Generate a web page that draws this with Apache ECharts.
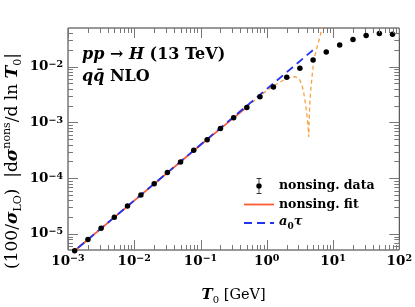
<!DOCTYPE html>
<html><head><meta charset="utf-8">
<script src="https://cdn.jsdelivr.net/npm/echarts@6/dist/echarts.min.js"></script>
<style>html,body{margin:0;padding:0;background:#fff}#c{width:415px;height:307px}</style>
</head><body><div id="c"></div>
<script>
// ---- data ----
const dataX = [1.26e-3, 2.0e-3, 3.16e-3, 5.0e-3, 7.9e-3, 1.26e-2, 2.0e-2, 3.16e-2, 5.0e-2, 7.9e-2,
               0.126, 0.2, 0.316, 0.5, 0.79, 1.26, 2.0, 3.16, 5.0, 7.9, 12.6, 20, 31.6, 50, 79];
const dataY = [5.0e-6, 7.94e-6, 1.26e-5, 2.0e-5, 3.16e-5, 5.01e-5, 7.94e-5, 1.26e-4, 1.95e-4, 3.16e-4,
               4.9e-4, 7.76e-4, 1.216e-3, 1.86e-3, 2.88e-3, 4.32e-3, 6.46e-3, 9.33e-3, 1.318e-2, 1.837e-2,
               2.455e-2, 3.055e-2, 3.606e-2, 3.91e-2, 3.82e-2];
const fitX = [0.001, 0.01, 0.1, 0.25, 0.5];
const fitY = [3.98e-6, 3.97e-5, 3.93e-4, 9.6e-4, 1.88e-3];
const fitExtX = [0.5, 0.76, 1.2, 1.9, 2.3, 2.7, 3.1, 3.4, 3.62, 3.84, 4.06, 4.2, 4.3, 4.33, 4.41, 4.56, 4.82, 5.12, 6.44, 7.0];
const fitExtY = [1.88e-3, 2.89e-3, 4.37e-3, 5.95e-3, 6.5e-3, 6.6e-3, 6.0e-3, 4.7e-3, 3.33e-3, 2.2e-3, 1.26e-3, 8.4e-4, 5.5e-4, 8.4e-4, 1.67e-3, 3.33e-3, 6.6e-3, 1.32e-2, 3.71e-2, 5.6e-2];
const a0X = [0.001, 5.5];
const a0Y = [3.98e-6, 2.19e-2];
const xTickExps = [-3, -2, -1, 0, 1, 2];
const yTickExps = [-5, -4, -3, -2];
const seriesNames = ['nonsing. data', 'nonsing. fit', 'a0tau'];

const X_MIN = 1e-3, X_MAX = 1e2, Y_MIN = 5.16e-6, Y_MAX = 0.0493;
const FONT = 'DejaVu Serif';
const zip = (a, b) => a.map((v, i) => [v, b[i]]);
const MINUS = '\u2212';

function expLabel(exps) {
  return function (v) {
    const e = Math.log10(v);
    const r = Math.round(e);
    if (Math.abs(e - r) > 1e-6 || exps.indexOf(r) < 0) return '';
    return '{b|10}{s|' + (r < 0 ? MINUS + (-r) : r) + '}';
  };
}
const labelRich = {
  b: {fontFamily: FONT, fontWeight: 'bold', fontSize: 13.5, color: '#000', lineHeight: 14, verticalAlign: 'bottom'},
  s: {fontFamily: FONT, fontWeight: 'bold', fontSize: 9.5, color: '#000', lineHeight: 12, verticalAlign: 'top'}
};

const chart = echarts.init(document.getElementById('c'), null, {renderer: 'canvas'});
chart.setOption({
  animation: false,
  backgroundColor: '#fff',
  grid: {left: 68, top: 28, width: 333, height: 222, show: true, borderColor: '#333', borderWidth: 1, backgroundColor: 'transparent'},
  xAxis: {
    type: 'log', min: X_MIN, max: X_MAX, logBase: 10,
    axisLine: {show: false}, axisTick: {show: false}, splitLine: {show: false},
    axisLabel: {margin: 4, formatter: expLabel(xTickExps), rich: labelRich}
  },
  yAxis: {
    type: 'log', min: Y_MIN, max: Y_MAX, logBase: 10,
    axisLine: {show: false}, axisTick: {show: false}, splitLine: {show: false},
    axisLabel: {margin: 5, formatter: expLabel(yTickExps), rich: labelRich}
  },
  legend: {
    orient: 'vertical', left: 239, top: 173,
    itemWidth: 30, itemHeight: 16, itemGap: 4,
    data: [
      {name: seriesNames[0], icon: 'path://M0,0H5V0.7H0Z M2.15,0H2.85V16H2.15Z M0,15.3H5V16H0Z M5.2,8A2.7,2.7 0 1 1 -0.2,8A2.7,2.7 0 1 1 5.2,8Z', itemStyle: {color: '#000', opacity: 1}},
      {name: seriesNames[1], icon: 'path://M0,0H30V1.8H0Z', itemStyle: {color: '#ff5a36'}},
      {name: seriesNames[2], icon: 'path://M0,0H8V1.8H0Z M13,0H21V1.8H13Z M26,0H30V1.8H26Z', itemStyle: {color: '#2233ee'}}
    ],
    formatter: n => n === 'a0tau' ? '{i|a}{sub|0}{i|τ}' : n,
    textStyle: {
      fontFamily: FONT, fontWeight: 'bold', fontSize: 12.5, color: '#000',
      rich: {
        i: {fontFamily: FONT, fontWeight: 'bold', fontStyle: 'italic', fontSize: 13, color: '#000', lineHeight: 16, verticalAlign: 'top'},
        sub: {fontFamily: FONT, fontWeight: 'bold', fontSize: 9, color: '#000', lineHeight: 10, verticalAlign: 'bottom'}
      }
    }
  },
  series: [
    {
      name: seriesNames[1], type: 'line', data: zip(fitX, fitY), symbol: 'none', z: 2,
      lineStyle: {color: '#ff5a36', width: 1.8}, itemStyle: {color: '#ff5a36'}
    },
    {
      name: 'fitExt', type: 'line', data: zip(fitExtX, fitExtY), symbol: 'none', z: 2,
      lineStyle: {color: '#f5a040', width: 1.3, type: [4, 3]}
    },
    {
      name: seriesNames[2], type: 'line', data: zip(a0X, a0Y), symbol: 'none', z: 3,
      lineStyle: {color: '#2233ee', width: 1.8, type: [8, 5]}, itemStyle: {color: '#2233ee'}
    },
    {
      name: seriesNames[0], type: 'scatter', data: zip(dataX, dataY), symbol: 'circle', symbolSize: 5.5,
      clip: false, z: 5, itemStyle: {color: '#000', opacity: 1}
    }
  ]
});

// ---- frame ticks (log minor ticks on all four sides) ----
const px = v => chart.convertToPixel({xAxisIndex: 0}, v);
const py = v => chart.convertToPixel({yAxisIndex: 0}, v);
const L = px(X_MIN), R = px(X_MAX), B = py(Y_MIN), T = py(Y_MAX);
const g = [];
const tickStyle = {stroke: '#777', lineWidth: 1};
function addLine(x1, y1, x2, y2) {
  g.push({type: 'line', silent: true, z: 10, shape: {x1, y1, x2, y2}, style: tickStyle});
}
for (let d = -3; d <= 2; d++) {
  for (let m = 1; m <= 9; m++) {
    const v = m * Math.pow(10, d);
    if (v < X_MIN * 0.999 || v > X_MAX * 1.001) continue;
    const x = Math.round(px(v)) + 0.5;
    const len = m === 1 ? 10 : 5;
    addLine(x, B, x, B - len);
    addLine(x, T, x, T + len);
  }
}
for (let d = -6; d <= -1; d++) {
  for (let m = 1; m <= 9; m++) {
    const v = m * Math.pow(10, d);
    if (v < Y_MIN || v > Y_MAX) continue;
    const y = Math.round(py(v)) + 0.5;
    const len = m === 1 ? 10 : 5;
    addLine(L, y, L + len, y);
    addLine(R, y, R - len, y);
  }
}
// ---- texts ----
const annRich = {
  bi: {fontFamily: FONT, fontSize: 16, fontWeight: 'bold', fontStyle: 'italic', fill: '#000'},
  b: {fontFamily: FONT, fontSize: 16, fontWeight: 'bold', fill: '#000'}
};
g.push({
  type: 'text', z: 20, x: 82, y: 55,
  style: {
    text: '{bi|pp} {b|→} {bi|H} {b|(13 TeV)}', verticalAlign: 'middle', align: 'left',
    fontFamily: FONT, fontSize: 16, fontWeight: 'bold', fill: '#000', rich: annRich
  }
});
g.push({
  type: 'text', z: 20, x: 82, y: 77,
  style: {
    text: '{bi|qq\u0304} {b|NLO}', verticalAlign: 'middle', align: 'left',
    fontFamily: FONT, fontSize: 16, fontWeight: 'bold', fill: '#000', rich: annRich
  }
});
g.push({
  type: 'text', z: 20, x: (L + R) / 2, y: 295,
  style: {
    text: '{i|T}{sub|0}{r| [GeV]}', align: 'center', verticalAlign: 'middle',
    rich: {
      i: {fontFamily: FONT, fontSize: 15, fontStyle: 'italic', fontWeight: 'bold', fill: '#000', lineHeight: 20, verticalAlign: 'middle'},
      sub: {fontFamily: FONT, fontSize: 10, fill: '#000', lineHeight: 13, verticalAlign: 'bottom'},
      r: {fontFamily: FONT, fontSize: 14.5, fill: '#000', lineHeight: 20, verticalAlign: 'middle'}
    }
  }
});
g.push({
  type: 'text', z: 20, x: 13, y: 161, rotation: Math.PI / 2,
  style: {
    text: '{r|(100/}{g|σ}{sub|LO}{r|)  |d}{g|σ}{sup|nons}{r|/d ln }{g|T}{sub|0}{r||}',
    align: 'center', verticalAlign: 'middle',
    rich: {
      r: {fontFamily: FONT, fontSize: 17, fill: '#000', lineHeight: 22, verticalAlign: 'middle'},
      g: {fontFamily: FONT, fontSize: 17, fontStyle: 'italic', fontWeight: 'bold', fill: '#000', lineHeight: 22, verticalAlign: 'middle'},
      sub: {fontFamily: FONT, fontSize: 11, fill: '#000', lineHeight: 14, verticalAlign: 'bottom'},
      sup: {fontFamily: FONT, fontSize: 11, fill: '#000', lineHeight: 12, verticalAlign: 'top'}
    }
  }
});
chart.setOption({graphic: g});
</script>
</body></html>
